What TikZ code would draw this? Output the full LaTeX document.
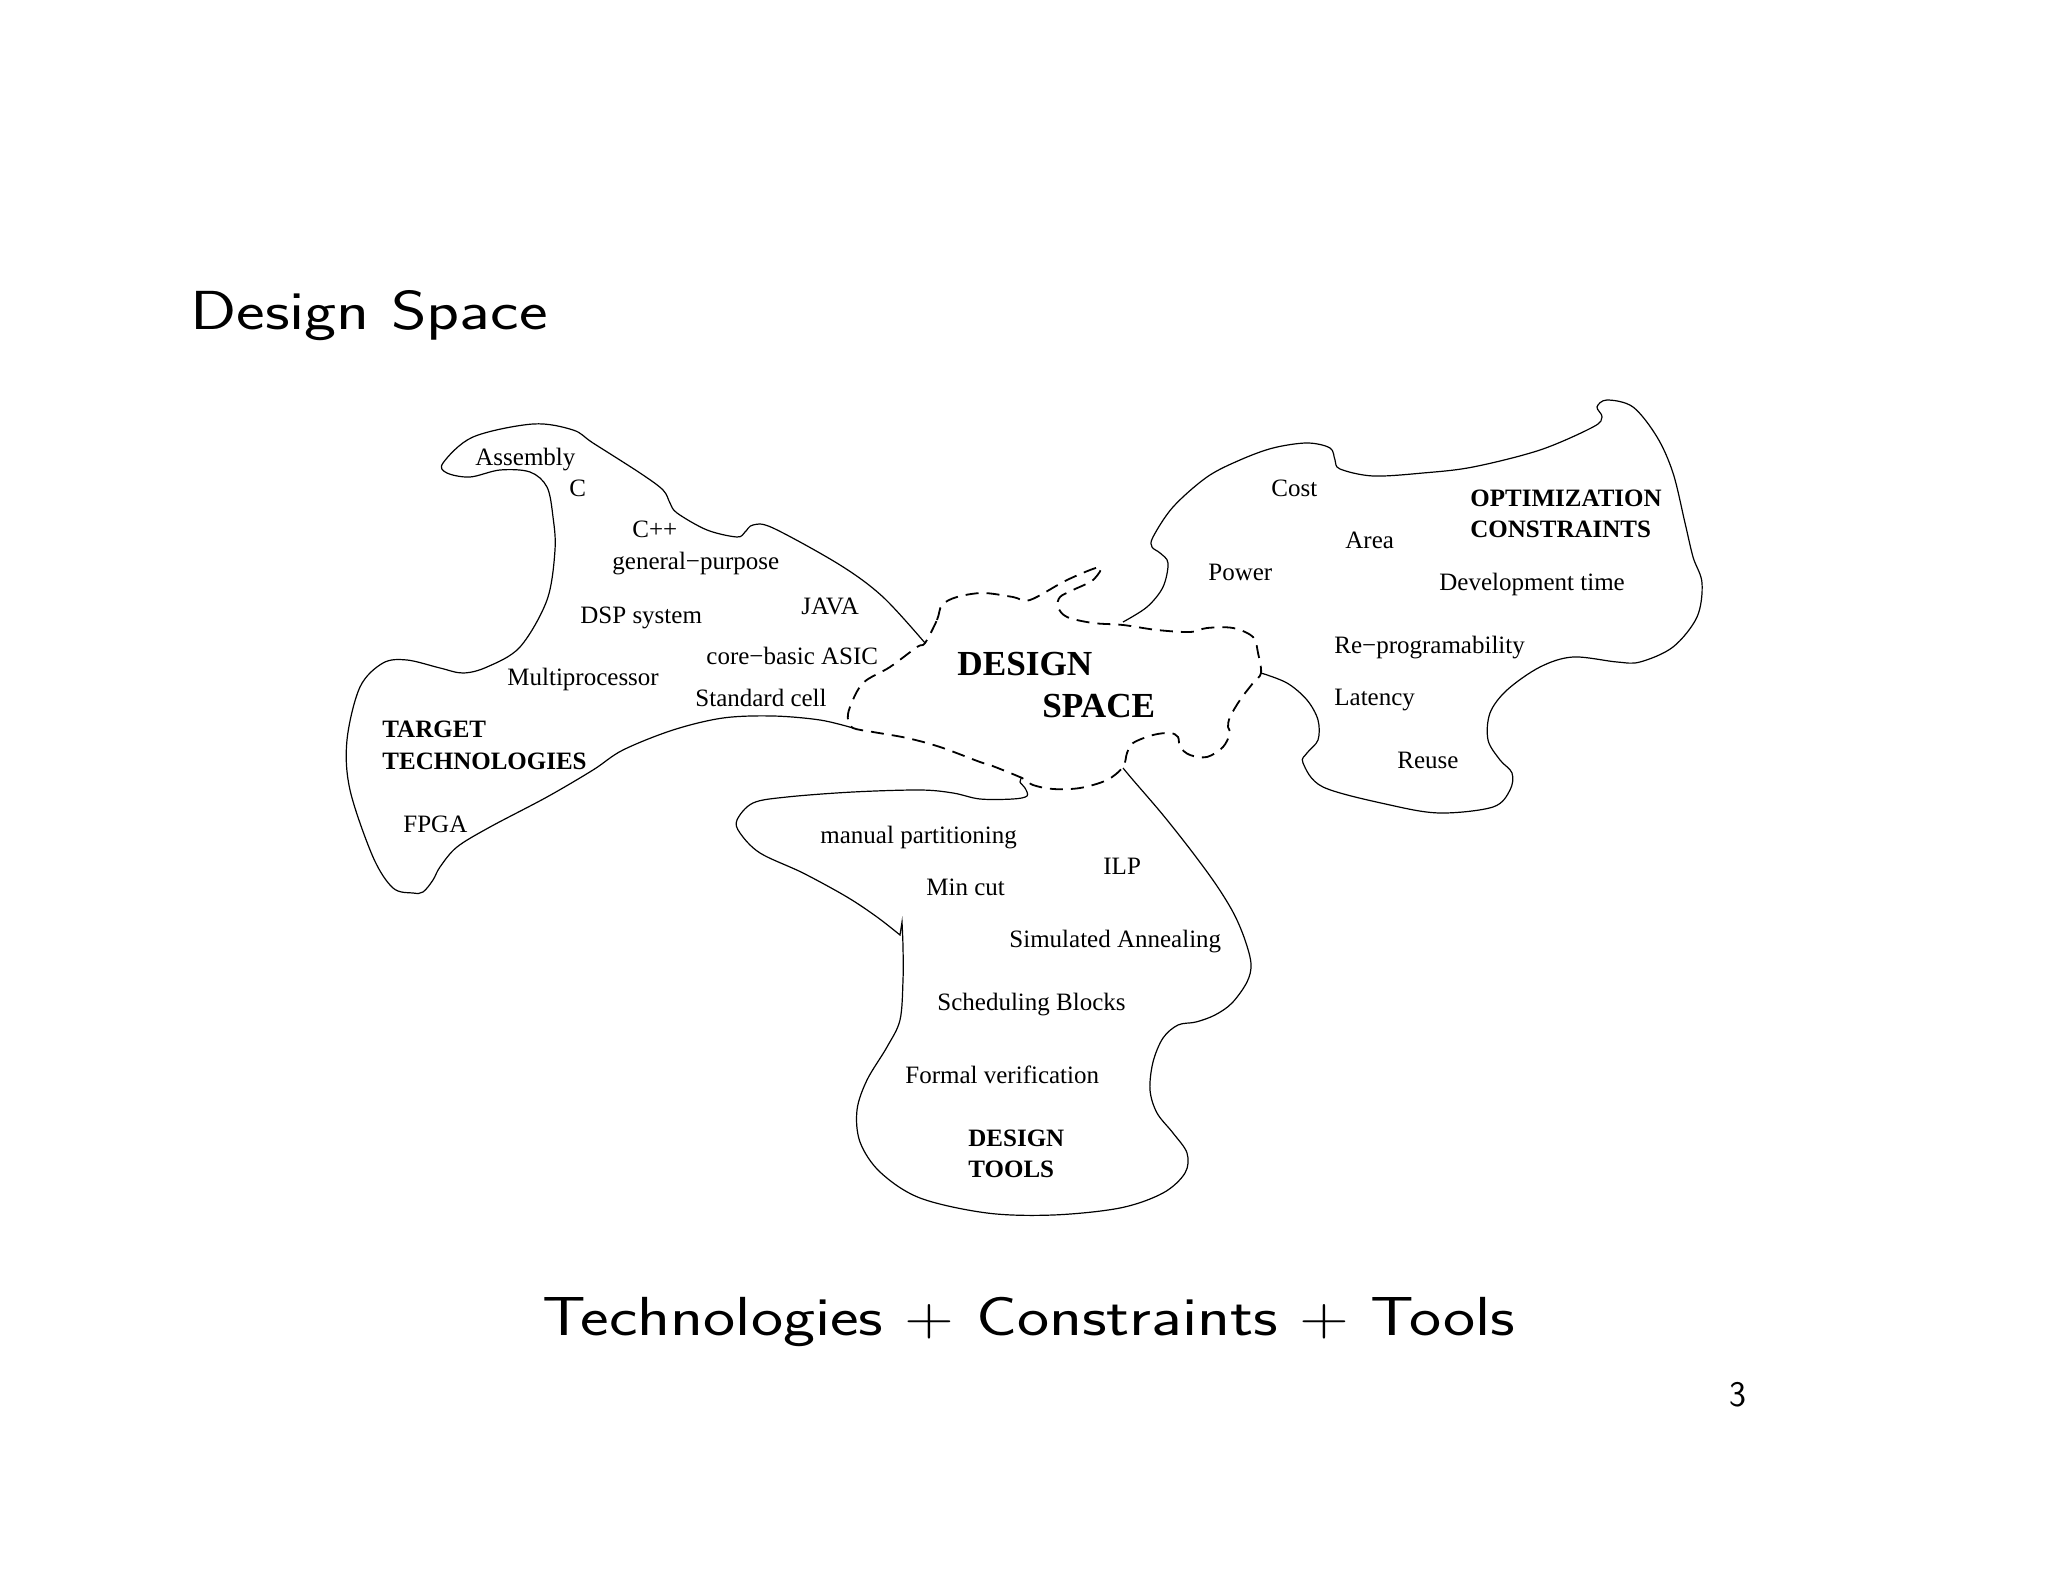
\documentclass[tikz,border=0pt]{standalone}
\usepackage{fontspec}
\usepackage{graphicx}
\newfontfamily\figfont{Liberation Serif}
\begin{document}
\begin{tikzpicture}[x=0.5pt, y=-0.5pt,
    item/.style={anchor=base west, inner sep=0pt, font=\figfont\fontsize{12.5}{14}\selectfont},
    head/.style={item, font=\figfont\bfseries\fontsize{12.5}{14}\selectfont},
    blob/.style={line width=0.6pt},
    space/.style={line width=0.9pt, dash pattern=on 6.5pt off 4pt},
    slide/.style={anchor=base west, inner sep=0pt, font=\sffamily\fontsize{27.5}{30}\selectfont}]
    \useasboundingbox (0,0) rectangle (2048,1582);

    % slide texts
    \node[slide] (title) at (190,330) {\scalebox{1.24}[1]{Design Space}};
    \node[slide] (sum) at (542,1335) {\scalebox{1.24}[1]{Technologies + Constraints + Tools}};
    \node[anchor=base east, inner sep=0pt, font=\sffamily\fontsize{18}{20}\selectfont] (page) at (1747,1406) {3};

    % design space (dashed)
    \draw[space] plot[smooth cycle, tension=0.55] coordinates {
        (925,643) (937,620) (942,605) (957,597) (983,593) (1013,597) (1030,600)
        (1067,580) (1100,567) (1093,580) (1073,590) (1060,597) (1058,607) (1067,617)
        (1093,623) (1123,625) (1157,630) (1190,632) (1207,628) (1233,628) (1253,637)
        (1258,653) (1261,673) (1253,683) (1240,700) (1230,717) (1228,727) (1230,733)
        (1223,747) (1207,757) (1190,755) (1180,747) (1178,737) (1170,733) (1153,735)
        (1133,743) (1127,753) (1123,767) (1107,780) (1080,788) (1053,789) (1033,785)
        (1022,778) (990,765) (980,762) (940,747) (907,738) (873,732) (853,728)
        (848,720) (850,707) (863,683) (890,667) (917,647)};

    % target technologies
    \draw[blob] plot[smooth, tension=0.55] coordinates {
        (925,643) (883,597) (840,565) (773,528) (753,525) (745,532) (737,537)
        (707,530) (677,513) (670,503) (663,490) (640,473) (593,443) (573,430)
        (533,424) (473,437) (443,463) (447,473) (470,477) (500,470) (530,472)
        (547,487) (553,517) (555,550) (547,600) (520,647) (487,667) (463,673)
        (440,668) (407,660) (383,663) (360,687) (347,740) (350,790) (373,857)
        (393,888) (413,893) (423,892) (433,880) (440,867) (457,847) (490,827)
        (547,797) (593,770) (623,750) (673,730) (723,718) (773,716) (820,720) (853,728)};

    % optimization constraints
    \draw[blob] plot[smooth, tension=0.55] coordinates {
        (1123,622) (1147,607) (1163,587) (1168,563) (1160,553) (1152,547) (1153,537)
        (1173,507) (1207,477) (1240,460) (1273,448) (1307,443) (1330,448) (1335,460)
        (1340,469) (1373,476) (1423,473) (1473,467) (1540,450) (1593,427) (1602,417)
        (1597,407) (1607,400) (1633,407) (1657,437) (1673,473) (1685,523) (1693,557)
        (1702,583) (1697,617) (1673,647) (1640,662) (1617,662) (1573,657) (1540,667)
        (1507,690) (1490,713) (1488,740) (1500,760) (1512,773) (1510,790) (1493,807)
        (1440,813) (1390,805) (1323,787) (1303,763) (1307,753) (1318,740) (1318,720)
        (1307,700) (1287,683) (1261,673)};

    % design tools
    \draw[blob] plot[smooth, tension=0.55] coordinates {
        (1123,768) (1133,780) (1163,815) (1193,853) (1217,886) (1234,914) (1245,940)
        (1251,964) (1247,982) (1232,1003) (1215,1015) (1196,1022) (1178,1025)
        (1163,1038) (1153,1062) (1150,1090) (1157,1113) (1173,1133) (1187,1153)
        (1185,1173) (1163,1193) (1120,1208) (1053,1215) (987,1213) (920,1198)
        (880,1172) (860,1142) (857,1110) (867,1080) (887,1047) (900,1020) (903,980)
        (903,947) (902,922)}
        -- plot[smooth, tension=0.55] coordinates {
        (900,935) (877,917) (847,897) (803,873) (760,853) (740,833) (737,820)
        (753,803) (787,797) (853,792) (920,790) (953,793) (980,799) (1013,799)
        (1027,796) (1025,788) (1020,782) (1022,777)};

    % labels: target technologies
    \node[item] (asm) at (475,466) {Assembly};
    \node[item] (c) at (569,497) {C};
    \node[item] (cpp) at (632,538) {C++};
    \node[item] (gp) at (612,570) {general−purpose};
    \node[item] (dsp) at (580,623) {DSP system};
    \node[item] (java) at (801,614) {JAVA};
    \node[item] (asic) at (706,664) {core−basic ASIC};
    \node[item] (mp) at (507,685) {Multiprocessor};
    \node[item] (cell) at (695,706) {Standard cell};
    \node[head] (tgt) at (382,737) {TARGET};
    \node[head] (tech) at (382,769) {TECHNOLOGIES};
    \node[item] (fpga) at (403,832) {FPGA};

    % labels: design space
    \node[item, font=\figfont\bfseries\fontsize{17.6}{20}\selectfont] (ds1) at (957,675) {DESIGN};
    \node[item, font=\figfont\bfseries\fontsize{17.6}{20}\selectfont] (ds2) at (1042,717) {SPACE};

    % labels: optimization constraints
    \node[item] (cost) at (1271,497) {Cost};
    \node[item] (area) at (1345,549) {Area};
    \node[item] (power) at (1208,581) {Power};
    \node[head] (opt) at (1470,507) {OPTIMIZATION};
    \node[head] (cons) at (1470,538) {CONSTRAINTS};
    \node[item] (dev) at (1439,590) {Development time};
    \node[item] (reprog) at (1334,653) {Re−programability};
    \node[item] (lat) at (1334,705) {Latency};
    \node[item] (reuse) at (1397,768) {Reuse};

    % labels: design tools
    \node[item] (manual) at (820,843) {manual partitioning};
    \node[item] (ilp) at (1103,874) {ILP};
    \node[item] (mincut) at (926,895) {Min cut};
    \node[item] (anneal) at (1009,947) {Simulated Annealing};
    \node[item] (sched) at (937,1010) {Scheduling Blocks};
    \node[item] (formal) at (905,1083) {Formal verification};
    \node[head] (dt1) at (968,1146) {DESIGN};
    \node[head] (dt2) at (968,1177) {TOOLS};
\end{tikzpicture}
\end{document}
